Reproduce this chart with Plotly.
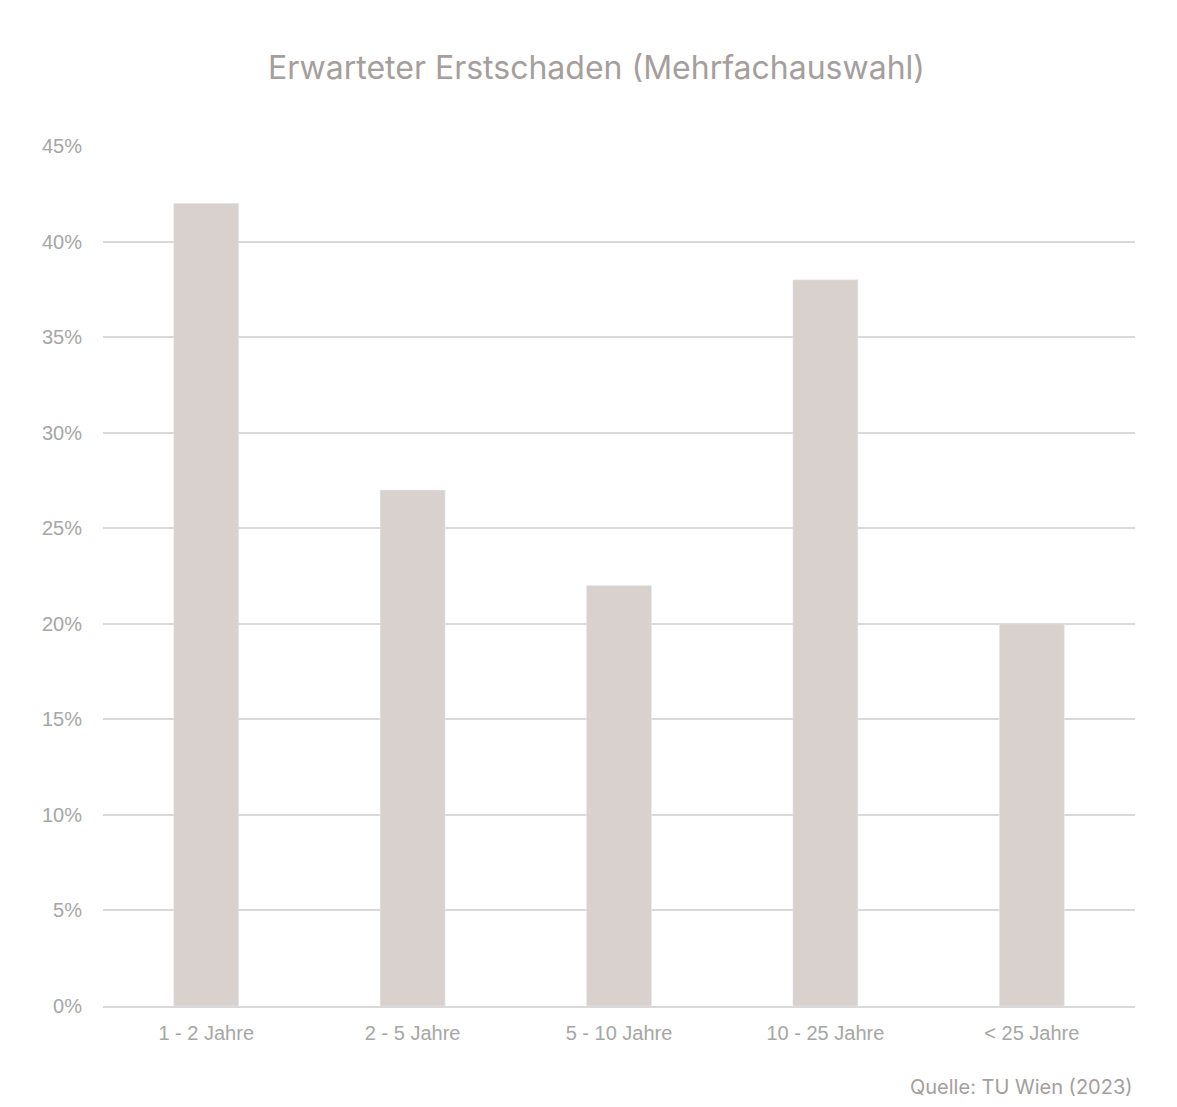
import plotly.graph_objects as go

categories = ["1 - 2 Jahre", "2 - 5 Jahre", "5 - 10 Jahre", "10 - 25 Jahre", "< 25 Jahre"]
values = [0.42, 0.27, 0.22, 0.38, 0.20]
tick_vals = [0, 0.05, 0.10, 0.15, 0.20, 0.25, 0.30, 0.35, 0.40, 0.45]

fig = go.Figure(go.Bar(x=categories, y=values, marker_color="#d9d1ce", hoverinfo="skip"))
fig.update_layout(
    width=1177, height=1107,
    margin=dict(l=95, r=50, t=138, b=109),
    paper_bgcolor="white", plot_bgcolor="white",
    bargap=0.685,
    showlegend=False,
    title=dict(text="Erwarteter Erstschaden (Mehrfachauswahl)", x=0.5, xanchor="center",
               y=1 - 60 / 1107, yanchor="middle",
               font=dict(family="Inter, Lato, sans-serif", size=32, color="#a59e9d")),
    font=dict(family="Liberation Sans, Arial, sans-serif", size=20, color="#a6a6a6"),
    annotations=[dict(text="Quelle: TU Wien (2023)", xref="paper", yref="paper",
                      x=1, y=-81 / 860, xanchor="right", yanchor="middle", showarrow=False,
                      font=dict(family="Inter, Lato, sans-serif", size=20, color="#a59e9d"))],
)
fig.update_yaxes(range=[0, 0.45], tickvals=tick_vals, tickformat=".0%", showgrid=True,
                 gridcolor="#d9d9d9", gridwidth=2, zeroline=False, showline=False,
                 ticks="", ticklabelstandoff=20)
fig.update_xaxes(showline=True, linecolor="#d9d9d9", linewidth=2, ticks="", ticklabelstandoff=8)
fig.write_html("out.html")
